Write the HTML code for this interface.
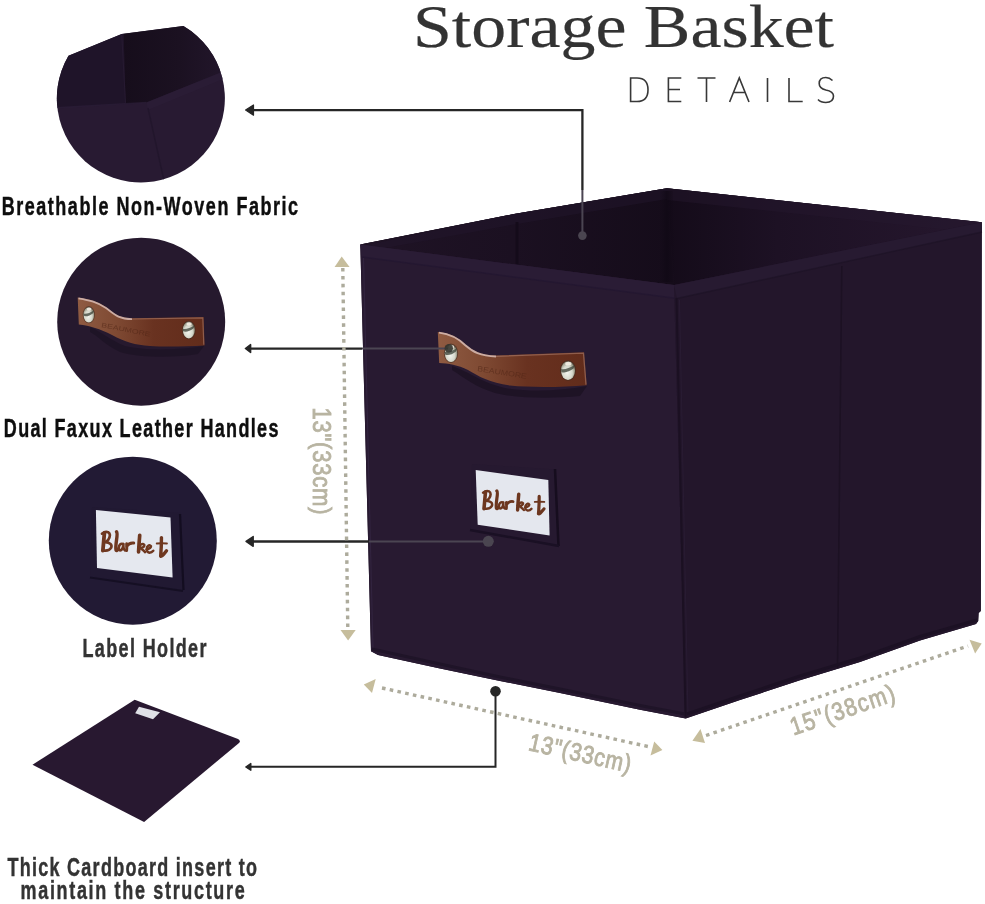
<!DOCTYPE html>
<html><head><meta charset="utf-8">
<style>
html,body{margin:0;padding:0;background:#fff;width:985px;height:904px;overflow:hidden}
svg{position:absolute;left:0;top:0;display:block;will-change:transform}
</style></head>
<body>
<svg width="985" height="904" viewBox="0 0 985 904">
<defs>
  <clipPath id="c1"><path d="M68.5,55.8 L121.7,33.9 L183.4,26 A84,84 0 1 1 68.5,55.8 Z"/></clipPath>
  <clipPath id="c2"><circle cx="141.2" cy="321.7" r="84"/></clipPath>
  <clipPath id="c3"><circle cx="132.8" cy="540.7" r="84"/></clipPath>
  <linearGradient id="leather" x1="0" y1="0" x2="1" y2="0">
    <stop offset="0" stop-color="#8f5b42"/>
    <stop offset="0.3" stop-color="#7f4a33"/>
    <stop offset="0.6" stop-color="#693220"/>
    <stop offset="1" stop-color="#622c1b"/>
  </linearGradient>
  <linearGradient id="innerR" gradientUnits="userSpaceOnUse" x1="667" y1="0" x2="982" y2="0">
    <stop offset="0" stop-color="#140b19"/>
    <stop offset="0.35" stop-color="#1d1124"/>
    <stop offset="1" stop-color="#26172e"/>
  </linearGradient>
  <radialGradient id="rivet" cx="0.45" cy="0.62" r="0.6">
    <stop offset="0" stop-color="#f2f4ee"/>
    <stop offset="0.6" stop-color="#d6d8cc"/>
    <stop offset="0.9" stop-color="#9a9a88"/>
    <stop offset="1" stop-color="#6a6458"/>
  </radialGradient>
  <linearGradient id="innerL" gradientUnits="userSpaceOnUse" x1="360" y1="0" x2="667" y2="0">
    <stop offset="0" stop-color="#1f1325"/>
    <stop offset="0.5" stop-color="#1b1021"/>
    <stop offset="1" stop-color="#150c1a"/>
  </linearGradient>
  <linearGradient id="c1inner" gradientUnits="userSpaceOnUse" x1="123" y1="0" x2="235" y2="0">
    <stop offset="0" stop-color="#160d1b"/>
    <stop offset="0.5" stop-color="#1b1121"/>
    <stop offset="1" stop-color="#24172d"/>
  </linearGradient>
  <linearGradient id="crease" x1="0" y1="0" x2="1" y2="0">
    <stop offset="0" stop-color="#110916" stop-opacity="0"/>
    <stop offset="0.5" stop-color="#0f0814" stop-opacity="1"/>
    <stop offset="1" stop-color="#110916" stop-opacity="0"/>
  </linearGradient>
</defs>

<!-- ===== Title ===== -->
<text x="413" y="46.8" font-family="Liberation Serif" font-size="61" fill="#333" stroke="#333" stroke-width="0.2" textLength="421" lengthAdjust="spacingAndGlyphs">Storage Basket</text>
<g fill="none" stroke="#383838" stroke-width="1.6" stroke-linecap="butt">
  <!-- D -->
  <path d="M630.6,78 L630.6,101.5 L637,101.5 Q648,101.5 648,89.7 Q648,78 637,78 Z"/>
  <!-- E -->
  <path d="M681.3,78 L668.4,78 L668.4,101.5 L681.3,101.5 M668.4,89.5 L680,89.5"/>
  <!-- T -->
  <path d="M697.5,78 L715.5,78 M706.5,78 L706.5,102"/>
  <!-- A -->
  <path d="M729.6,102 L739.3,78 L749,102 M733.6,92.5 L745,92.5"/>
  <!-- I -->
  <path d="M767.5,78 L767.5,102"/>
  <!-- L -->
  <path d="M789,78 L789,101.5 L802.7,101.5"/>
  <!-- S -->
  <path d="M832.5,80.5 Q829.5,77.5 825.8,77.5 Q819.2,77.5 819.2,83.5 Q819.2,88.5 825.8,90 Q833.5,91.5 833.5,96 Q833.5,102.5 825.8,102.5 Q820.8,102.5 818,99.5"/>
</g>

<!-- ===== Box ===== -->
<g>
  <path d="M360.3,244.6 L514,214 L667,188.3 L981.8,222.2 L980.8,611 L978.6,613 L978.2,621 L976,624 L920,640.5 L860,662 L800,680.2 L740,700.1 L685.7,718.4 L640,709.7 L560,692.9 L500,681 L440,668.5 L378,655 L371,651.3 Z" fill="#24172c"/>
  <!-- inner opening (back walls) -->
  <path d="M360.3,244.6 L514,214 L667,188.3 L981.8,222.2 L674,285 Z" fill="#1a101f"/>
  <path d="M667,188.3 L981.8,222.2 L674,285 Z" fill="url(#innerR)"/>
  <path d="M360.3,244.6 L514,214 L667,188.3 L674,285 Z" fill="url(#innerL)"/>
  <!-- back rim bands -->
  <path d="M362,246 L514,214 L667,188.3 L667,199 L514,224.5 L380,249 Z" fill="#22152b" opacity="0.5"/>
  <path d="M667,188.3 L981.8,222.2 L968,232 L667,200 Z" fill="#26182f" opacity="0.45"/>
  <!-- crease -->
  <path d="M660,191 L673,191 L675,282 L659,282 Z" fill="url(#crease)" opacity="0.7"/>
  <path d="M515.6,222 L518.4,222 L518.4,265 L515.6,265 Z" fill="#140b1a"/>
  <!-- left front face -->
  <path d="M360.3,244.6 L674,285 L685.7,718.4 L640,709.7 L560,692.9 L500,681 L440,668.5 L378,655 L371,651.3 Z" fill="#281a31"/>
  <!-- rim band left -->
  <path d="M360.3,244.6 L674,285 L677,298.5 L362,257 Z" fill="#2a1c35"/>
  <path d="M362,257 L677,298.5" stroke="#211530" stroke-width="1.3" fill="none" opacity="0.6"/>
  <!-- right front face -->
  <path d="M674,285 L981.8,222.2 L980.8,611 L978.6,613 L978.2,621 L976,624 L920,640.5 L860,662 L800,680.2 L740,700.1 L685.7,718.4 Z" fill="#23162b"/>
  <path d="M674,285 L981.8,222.2 L982,232 L677,298.5 Z" fill="#271a31"/>
  <path d="M677,298.5 L982,232" stroke="#1d1224" stroke-width="1.3" fill="none" opacity="0.6"/>
  <!-- edges -->
  <path d="M676.5,298 L685.5,717" stroke="#1b1022" stroke-width="2" fill="none"/>
  <path d="M679.5,300 L688,716" stroke="#291c33" stroke-width="1" fill="none"/>
  <path d="M841.8,266 L837.5,668" stroke="#1c1123" stroke-width="1.5" fill="none"/>
  <path d="M363.5,258 L373,650" stroke="#31233e" stroke-width="1.2" fill="none"/>
  <path d="M372,649 L440,664 L500,677 L560,689 L640,705.5 L685,714" stroke="#1f1428" stroke-width="3" fill="none"/>
  <path d="M687,714 L740,696 L800,676 L860,658 L920,636.5 L977,620" stroke="#1c1124" stroke-width="3" fill="none"/>

  <!-- handle -->
  <path d="M452,366 C470,372 480,382 505,388 C530,392 560,391 587,386 L580,396 C550,399 515,398 495,393 C475,387 465,378 452,370 Z" fill="#140b1a" opacity="0.5"/>
  <path d="M437.8,331.9 C450,333 458,337 465,344 C473,351 480,355 496,355.5 L584,352.3 L586.7,385.2 C560,387.5 530,387.5 510,385.5 C490,383 478,376 468,370 C458,365 448,363.5 439.2,363 Z" fill="url(#leather)"/>
  <path d="M439,332.6 C450,334 458,338 465,345 C473,352 480,356 496,356.5" stroke="#d9bdb6" stroke-width="1.8" fill="none" opacity="0.85"/>
  <path d="M496,356.3 L583.5,353.2 L586,384.6" stroke="#b48573" stroke-width="1.3" fill="none" opacity="0.55"/>
  <text transform="translate(477,371) rotate(9)" font-family="Liberation Sans" font-size="7.5" fill="#4e2415" opacity="0.55" textLength="50" lengthAdjust="spacingAndGlyphs">BEAUMORE</text>
  <g transform="translate(451,353.2) scale(6.2,8.8)">
    <ellipse cx="0" cy="0" rx="1.15" ry="1.1" fill="#3e2c22" opacity="0.6"/>
    <ellipse cx="0" cy="0" rx="1" ry="1" fill="url(#rivet)"/>
    <path d="M-1,-0.15 C-0.5,-0.05 0.2,-0.25 0.95,-0.55 L0.8,-0.2 C0.2,0.15 -0.5,0.3 -0.95,0.15 Z" fill="#3a4036" opacity="0.75"/>
    <ellipse cx="0.05" cy="-0.72" rx="0.45" ry="0.2" fill="#f4f0e6" opacity="0.9"/>
  </g>
  <g transform="translate(568,370.5) scale(7,9.4)">
    <ellipse cx="0" cy="0" rx="1.15" ry="1.1" fill="#3e2c22" opacity="0.6"/>
    <ellipse cx="0" cy="0" rx="1" ry="1" fill="url(#rivet)"/>
    <path d="M-1,-0.15 C-0.5,-0.05 0.2,-0.25 0.95,-0.55 L0.8,-0.2 C0.2,0.15 -0.5,0.3 -0.95,0.15 Z" fill="#3a4036" opacity="0.75"/>
    <ellipse cx="0.05" cy="-0.72" rx="0.45" ry="0.2" fill="#f4f0e6" opacity="0.9"/>
  </g>

  <!-- label holder -->
  <path d="M472,464 L556,469.5 L558.5,546 L470,530 Z" fill="#261930"/>
  <path d="M555,469 L558.5,546" stroke="#160d1e" stroke-width="2.5"/>
  <path d="M470,530 L559,546" stroke="#1a1024" stroke-width="2.5"/>
  <path d="M475.7,470.1 L548.3,480 L549.6,535.4 L477.7,524.8 Z" fill="#e4e7ee"/>
  <g transform="translate(478,484) scale(0.0731)" stroke="#6c361f">
  <g fill="none" stroke-linecap="round" stroke-linejoin="round">
    <path d="M70,120 Q110,85 150,100 Q195,130 150,200 Q125,222 112,228 Q210,240 190,300 Q160,350 85,335" stroke-width="34"/>
    <path d="M102,110 Q92,230 82,338" stroke-width="49"/>
    <path d="M258,95 Q272,110 258,200 Q244,300 252,332 Q262,345 278,322" stroke-width="44"/>
    <path d="M342,252 Q292,240 287,300 Q287,345 320,330 Q345,310 347,252 Q342,320 367,335" stroke-width="34"/>
    <path d="M388,250 Q392,300 388,338 M388,285 Q422,232 480,240" stroke-width="38"/>
    <path transform="translate(-25,0)" d="M582,140 Q572,250 567,355" stroke-width="47"/>
    <path transform="translate(-25,0)" d="M567,292 Q612,230 642,265 Q642,300 584,302 Q622,322 652,357" stroke-width="32"/>
    <path transform="translate(-20,0)" d="M662,322 Q722,312 722,282 Q702,252 672,292 Q652,350 702,365 Q732,365 752,340" stroke-width="32"/>
    <path d="M837,170 Q837,300 827,408 Q842,420 902,340" stroke-width="44"/>
    <path d="M777,245 Q842,240 907,245" stroke-width="26"/>
  </g>
  </g>
</g>

<!-- ===== Connectors ===== -->
<g stroke="#262626" fill="none">
  <path d="M252,110.2 L582.4,110.2 L582.4,190" stroke-width="2.3"/>
  <path d="M250,348.6 L362,348.6" stroke-width="2.3"/>
  <path d="M252,541.4 L369,541.4" stroke-width="2.5"/>
  <path d="M250,766.8 L495.5,766.8 L495.5,691" stroke-width="2"/>
</g>
<g stroke="#4b4552" stroke-width="2" fill="none">
  <path d="M582.4,190 L582.4,235"/>
  <path d="M362,348.6 L448,348.4"/>
  <path d="M369,541.4 L488,541.4"/>
</g>
<g fill="#262626" stroke="#262626" stroke-linejoin="round">
  <path d="M245.6,110.1 L253.5,105 L253.5,115.2 Z" stroke-width="1.2"/>
  <path d="M245.4,348.5 L250.6,344.6 L250.6,352.4 Z" stroke-width="1.5"/>
  <path d="M246,541.4 L253.2,536.5 L253.2,546.3 Z" stroke-width="1.4"/>
  <path d="M245.8,767 L250.8,763.6 L250.8,770.2 Z" stroke-width="1.4"/>
  <circle cx="495.5" cy="691.2" r="5.3" stroke="none"/>
</g>
<g fill="#4a4550">
  <circle cx="582.4" cy="235.6" r="4.3"/>
  <circle cx="448.8" cy="348.2" r="4.2" fill="#34352f" opacity="0.9"/>
  <circle cx="488.3" cy="541.3" r="5.5"/>
</g>

<!-- ===== Dimension arrows ===== -->
<g stroke="#adab9c" stroke-width="3.4" stroke-dasharray="3.6 4.3" fill="none">
  <path d="M342.8,268 L347.8,629"/>
  <path d="M382,688 L648,746.5"/>
  <path d="M706,735.5 L968,646"/>
</g>
<g fill="#c6bd9c">
  <path d="M341.7,256.5 L349.6,267 L334.6,267 Z"/>
  <path d="M348.1,640.6 L340.5,630 L355.7,630 Z"/>
  <path d="M363.8,684.5 L375.7,679 L372,693 Z"/>
  <path d="M662.4,749.9 L650.5,755.4 L654.2,741.4 Z"/>
  <path d="M692.4,740.7 L700.5,729 L705,743 Z"/>
  <path d="M981.7,643.5 L969.5,639.7 L975.1,653.4 Z"/>
</g>
<g fill="#b8b4a2" stroke="#b8b4a2" stroke-width="0.9" font-family="Liberation Sans" font-size="26">
  <text transform="translate(312.5,407.5) rotate(90) scale(0.85,1)" textLength="125.9" lengthAdjust="spacing">13"(33cm)</text>
  <text transform="translate(527.5,750) rotate(12.5) scale(0.85,1)" font-size="25" textLength="122.4" lengthAdjust="spacing">13"(33cm)</text>
  <text transform="translate(793.5,735.5) rotate(-18.9) scale(0.85,1)" font-size="25" textLength="128.2" lengthAdjust="spacing">15"(38cm)</text>
</g>

<!-- ===== Circle 1 ===== -->
<g clip-path="url(#c1)">
  <rect x="50" y="10" width="190" height="190" fill="#281a32"/>
  <path d="M50,10 L123,10 L125.5,104 L50,108 Z" fill="#1f1429"/>
  <path d="M123,10 L240,10 L240,64 L219.5,73 L146.4,102.5 L125.5,104 Z" fill="url(#c1inner)"/>
  <path d="M121.7,33.9 L125.5,103" stroke="#2a1d35" stroke-width="1.2" opacity="0.7"/>
  <path d="M146.4,102.5 L219.5,73 L240,64 L240,72 L148,110 Z" fill="#2b1d36" opacity="0.8"/>
  <path d="M50,108 L146.4,102.5" stroke="#2c1e38" stroke-width="1.5" opacity="0.7"/>
  <path d="M148,108 L164.5,183" stroke="#22162c" stroke-width="1.4"/>
</g>

<!-- ===== Circle 2 ===== -->
<g clip-path="url(#c2)">
  <rect x="50" y="230" width="190" height="190" fill="#26192e"/>
  <path d="M90,327 C100,331 110,340 125,346 C145,351 180,350 204,346 L198,354 C175,358 140,358 120,352 C105,345 98,336 90,332 Z" fill="#150c1c" opacity="0.4"/>
  <path d="M77.7,297.5 C90,299.5 97,301 106,307 C114,313 118,318 132,318.2 L203.6,317 L204.6,345.6 C185,346.5 165,347 150,346 C135,345 125,342 112,335 C100,329 90,325.5 78.8,324.5 Z" fill="url(#leather)"/>
  <path d="M78.5,298.3 C90,300.3 97,302 106,308 C114,314 118,319 132,319.2" stroke="#d9bdb6" stroke-width="1.7" fill="none" opacity="0.85"/>
  <path d="M132,319 L202.8,317.8 L203.8,344.8" stroke="#b48573" stroke-width="1.2" fill="none" opacity="0.55"/>
  <text transform="translate(101,327) rotate(11)" font-family="Liberation Sans" font-size="6.5" fill="#4e2415" opacity="0.55" textLength="50" lengthAdjust="spacingAndGlyphs">BEAUMORE</text>
  <g transform="translate(88.8,314.7) scale(5.3,7.8)">
    <ellipse cx="0" cy="0" rx="1.15" ry="1.1" fill="#3e2c22" opacity="0.6"/>
    <ellipse cx="0" cy="0" rx="1" ry="1" fill="url(#rivet)"/>
    <path d="M-1,-0.15 C-0.5,-0.05 0.2,-0.25 0.95,-0.55 L0.8,-0.2 C0.2,0.15 -0.5,0.3 -0.95,0.15 Z" fill="#3a4036" opacity="0.75"/>
    <ellipse cx="0.05" cy="-0.72" rx="0.45" ry="0.2" fill="#f4f0e6" opacity="0.9"/>
  </g>
  <g transform="translate(188.8,330) scale(6,8.4)">
    <ellipse cx="0" cy="0" rx="1.15" ry="1.1" fill="#3e2c22" opacity="0.6"/>
    <ellipse cx="0" cy="0" rx="1" ry="1" fill="url(#rivet)"/>
    <path d="M-1,-0.15 C-0.5,-0.05 0.2,-0.25 0.95,-0.55 L0.8,-0.2 C0.2,0.15 -0.5,0.3 -0.95,0.15 Z" fill="#3a4036" opacity="0.75"/>
    <ellipse cx="0.05" cy="-0.72" rx="0.45" ry="0.2" fill="#f4f0e6" opacity="0.9"/>
  </g>
</g>

<!-- ===== Circle 3 ===== -->
<g clip-path="url(#c3)">
  <rect x="40" y="450" width="190" height="190" fill="#221a34"/>
  <path d="M92,507 L181,513 L183,590 L90,576 Z" fill="#211932"/>
  <path d="M180,514 L183.5,590" stroke="#130d20" stroke-width="2.2"/>
  <path d="M90,577.5 L183,591" stroke="#150f23" stroke-width="2.2"/>
  <path d="M95.9,510.1 L170.5,517.5 L172.6,577.4 L97,568 Z" fill="#e5e8ef"/>
  <g transform="translate(96.5,524.4) scale(0.0776)" stroke="#6f3820">
  <g fill="none" stroke-linecap="round" stroke-linejoin="round">
    <path d="M70,120 Q110,85 150,100 Q195,130 150,200 Q125,222 112,228 Q210,240 190,300 Q160,350 85,335" stroke-width="34"/>
    <path d="M102,110 Q92,230 82,338" stroke-width="49"/>
    <path d="M258,95 Q272,110 258,200 Q244,300 252,332 Q262,345 278,322" stroke-width="44"/>
    <path d="M342,252 Q292,240 287,300 Q287,345 320,330 Q345,310 347,252 Q342,320 367,335" stroke-width="34"/>
    <path d="M388,250 Q392,300 388,338 M388,285 Q422,232 480,240" stroke-width="38"/>
    <path transform="translate(-25,0)" d="M582,140 Q572,250 567,355" stroke-width="47"/>
    <path transform="translate(-25,0)" d="M567,292 Q612,230 642,265 Q642,300 584,302 Q622,322 652,357" stroke-width="32"/>
    <path transform="translate(-20,0)" d="M662,322 Q722,312 722,282 Q702,252 672,292 Q652,350 702,365 Q732,365 752,340" stroke-width="32"/>
    <path d="M837,170 Q837,300 827,408 Q842,420 902,340" stroke-width="44"/>
    <path d="M777,245 Q842,240 907,245" stroke-width="26"/>
  </g>
  </g>
</g>

<!-- ===== Cardboard ===== -->
<path d="M32.5,764.7 L134.7,699.8 L238,739 Q241,740.5 239,743 L144.1,821.9 Z" fill="#281830"/>
<path d="M139,706.8 L160,712.2 L153,719.2 L135.2,713.3 Z" fill="#dfe0e6"/>

<!-- ===== Labels ===== -->
<g font-family="Liberation Sans" font-weight="bold" font-size="25" stroke-width="0.45">
  <text transform="translate(1.7,214.9) scale(0.72,1)" fill="#0e0e0e" stroke="#0e0e0e" textLength="411.7" lengthAdjust="spacing">Breathable Non-Woven Fabric</text>
  <text transform="translate(3.8,437) scale(0.72,1)" fill="#0e0e0e" stroke="#0e0e0e" textLength="381.5" lengthAdjust="spacing">Dual Faxux Leather Handles</text>
  <text transform="translate(82.5,656.9) scale(0.72,1)" fill="#333" stroke="#333" textLength="172.2" lengthAdjust="spacing">Label Holder</text>
  <text transform="translate(7.3999999999999995,875.7) scale(0.72,1)" fill="#333" stroke="#333" textLength="346.7" lengthAdjust="spacing">Thick Cardboard insert to</text>
  <text transform="translate(20.599999999999998,899.3) scale(0.72,1)" fill="#333" stroke="#333" textLength="311.2" lengthAdjust="spacing">maintain the structure</text>
</g>
</svg>
</body></html>
